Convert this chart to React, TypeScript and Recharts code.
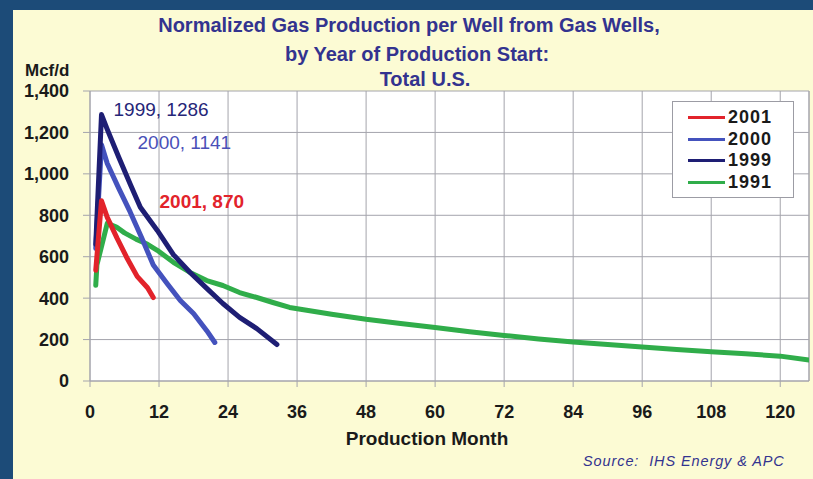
import React from "react";
import {
  LineChart,
  Line,
  XAxis,
  YAxis,
  CartesianGrid,
  ReferenceLine,
  ReferenceDot,
} from "recharts";

const FONT = "'Liberation Sans', Arial, sans-serif";
const NAVY_TITLE = "#33338f";
const RED = "#e2232b";
const BLUE = "#4452bd";
const NAVY = "#1e1e74";
const GREEN = "#30ad4a";
const GRID = "#a4a4ac";

const MONTH_TICKS = [0, 12, 24, 36, 48, 60, 72, 84, 96, 108, 120];
const MCF_TICKS = [0, 200, 400, 600, 800, 1000, 1200, 1400];

// [production month, Mcf/d]
const wells2001: [number, number][] = [
  [1, 535], [2, 870], [3, 790], [4.7, 690], [6.5, 590], [8.2, 505], [10, 450], [11, 403],
];
const wells2000: [number, number][] = [
  [1, 640], [2, 1141], [3, 1050], [5, 930], [7, 815], [9, 690], [11, 560], [13.4, 471],
  [15.7, 389], [18, 326], [20.3, 243], [21.7, 186],
];
const wells1999: [number, number][] = [
  [1, 660], [2, 1286], [3, 1215], [5, 1080], [7, 950], [8.75, 839], [11.7, 727], [14.5, 610],
  [17.4, 524], [20.3, 447], [23.1, 374], [26, 307], [29, 253], [32.5, 176],
];
const wells1991: [number, number][] = [
  [1, 462], [1.2, 560], [3, 761], [4.6, 743], [6, 715], [8, 685], [10, 660], [11.7, 631],
  [14.5, 573], [17.4, 524], [20.3, 485], [23.1, 461], [26, 427], [29, 403], [31.8, 379],
  [34.7, 355], [42, 322], [48, 298], [54, 278], [60, 258], [66, 238], [72, 220], [78, 203],
  [84, 188], [90, 176], [96, 164], [102, 152], [108, 141], [114, 131], [120, 120], [125, 101],
];

const toPoints = (rows: [number, number][]) => rows.map(([month, mcf]) => ({ month, mcf }));

const SERIES = [
  { name: "2001", color: RED, rows: wells2001 },
  { name: "2000", color: BLUE, rows: wells2000 },
  { name: "1999", color: NAVY, rows: wells1999 },
  { name: "1991", color: GREEN, rows: wells1991 },
];
// drawing order: green underneath, red on top
const DRAW_ORDER = ["1991", "2000", "1999", "2001"];

const PEAKS = [
  { text: "1999, 1286", y: 1286, color: "#262678", bold: false, dx: 12, dy: -5 },
  { text: "2000, 1141", y: 1141, color: "#4a50b8", bold: false, dx: 36, dy: -2 },
  { text: "2001, 870", y: 870, color: RED, bold: true, dx: 58, dy: 1 },
];

// chart box geometry
const W = 813;
const H = 479;
const M = { top: 91, right: 4, bottom: 0, left: 0 };
const Y_AXIS_W = 90;
const X_AXIS_H = 98;

function LegendBox() {
  return (
    <div
      style={{
        position: "absolute",
        left: 672,
        top: 101,
        width: 122,
        height: 97,
        background: "#fff",
        border: "1px solid #9c9ca4",
        boxSizing: "border-box",
        paddingTop: 5,
      }}
    >
      {SERIES.map((s) => (
        <div key={s.name} style={{ display: "flex", alignItems: "center", height: 21.5 }}>
          <div style={{ width: 37, height: 3, background: s.color, marginLeft: 15 }} />
          <span
            style={{
              marginLeft: 3,
              fontFamily: FONT,
              fontWeight: "bold",
              fontSize: 18,
              letterSpacing: 1,
              color: "#1a1a1a",
            }}
          >
            {s.name}
          </span>
        </div>
      ))}
    </div>
  );
}

const tickStyle = { fill: "#1a1a1a", fontSize: 18, fontWeight: "bold", fontFamily: FONT };

export default function App() {
  return (
    <div
      style={{
        position: "absolute",
        left: 0,
        top: 0,
        width: W,
        height: H,
        background: "#1c4b78",
        overflow: "hidden",
      }}
    >
      <div
        style={{
          position: "absolute",
          left: 13,
          top: 10,
          right: 0,
          bottom: 0,
          background: "#fcfbd4",
        }}
      />
      {/* white plot background behind the svg */}
      <div
        style={{
          position: "absolute",
          left: M.left + Y_AXIS_W,
          top: M.top,
          width: W - M.left - M.right - Y_AXIS_W,
          height: H - M.top - M.bottom - X_AXIS_H,
          background: "#ffffff",
        }}
      />
      {[
        { t: "Normalized Gas Production per Well from Gas Wells,", top: 15, cx: 409 },
        { t: "by Year of Production Start:", top: 44, cx: 417 },
        { t: "Total U.S.", top: 69, cx: 425 },
      ].map((l) => (
        <div
          key={l.t}
          style={{
            position: "absolute",
            left: l.cx - 300,
            width: 600,
            top: l.top,
            textAlign: "center",
            fontFamily: FONT,
            fontWeight: "bold",
            fontSize: 20,
            lineHeight: "20px",
            color: NAVY_TITLE,
          }}
        >
          {l.t}
        </div>
      ))}
      <div
        style={{
          position: "absolute",
          left: 25,
          top: 62,
          fontFamily: FONT,
          fontWeight: "bold",
          fontSize: 17,
          lineHeight: "17px",
          color: "#1a1a1a",
        }}
      >
        Mcf/d
      </div>
      <div style={{ position: "absolute", left: 0, top: 0 }}>
        <LineChart width={W} height={H} margin={M}>
          <CartesianGrid stroke={GRID} />
          <XAxis
            dataKey="month"
            type="number"
            domain={[0, 125]}
            ticks={MONTH_TICKS}
            height={X_AXIS_H}
            tick={tickStyle}
            tickSize={6}
            tickMargin={18}
            stroke={GRID}
            allowDataOverflow
          />
          <YAxis
            type="number"
            domain={[0, 1400]}
            ticks={MCF_TICKS}
            width={Y_AXIS_W}
            tick={tickStyle}
            tickSize={7}
            tickMargin={14}
            stroke={GRID}
            tickFormatter={(v: number) => v.toLocaleString("en-US")}
          />
          <ReferenceLine x={125} stroke={GRID} />
          {DRAW_ORDER.map((name) => {
            const s = SERIES.find((x) => x.name === name)!;
            return (
              <Line
                key={s.name}
                name={s.name}
                data={toPoints(s.rows)}
                dataKey="mcf"
                type="linear"
                stroke={s.color}
                strokeWidth={5}
                strokeLinejoin="round"
                strokeLinecap="round"
                dot={false}
                activeDot={false}
                isAnimationActive={false}
              />
            );
          })}
          {PEAKS.map((p) => (
            <ReferenceDot
              key={p.text}
              x={2}
              y={p.y}
              r={1}
              fill="none"
              stroke="none"
              label={{
                content: (props: any) => {
                  const vb = props.viewBox || {};
                  const cx = (vb.x ?? 0) + (vb.width ?? 0) / 2;
                  const cy = (vb.y ?? 0) + (vb.height ?? 0) / 2;
                  return (
                    <text
                      x={cx + p.dx}
                      y={cy + p.dy}
                      fill={p.color}
                      fontSize={19}
                      fontWeight={p.bold ? "bold" : "normal"}
                      fontFamily={FONT}
                      dominantBaseline="central"
                    >
                      {p.text}
                    </text>
                  );
                },
              }}
            />
          ))}
        </LineChart>
      </div>
      <LegendBox />
      <div
        style={{
          position: "absolute",
          left: 227,
          width: 400,
          top: 429,
          textAlign: "center",
          fontFamily: FONT,
          fontWeight: "bold",
          fontSize: 19,
          lineHeight: "19px",
          color: "#1a1a1a",
        }}
      >
        Production Month
      </div>
      <div
        style={{
          position: "absolute",
          left: 583,
          top: 454,
          fontFamily: FONT,
          fontStyle: "italic",
          fontSize: 14.5,
          lineHeight: "15px",
          letterSpacing: 0.9,
          whiteSpace: "pre",
          color: "#33338f",
        }}
      >
        {"Source:  IHS Energy & APC"}
      </div>
    </div>
  );
}
